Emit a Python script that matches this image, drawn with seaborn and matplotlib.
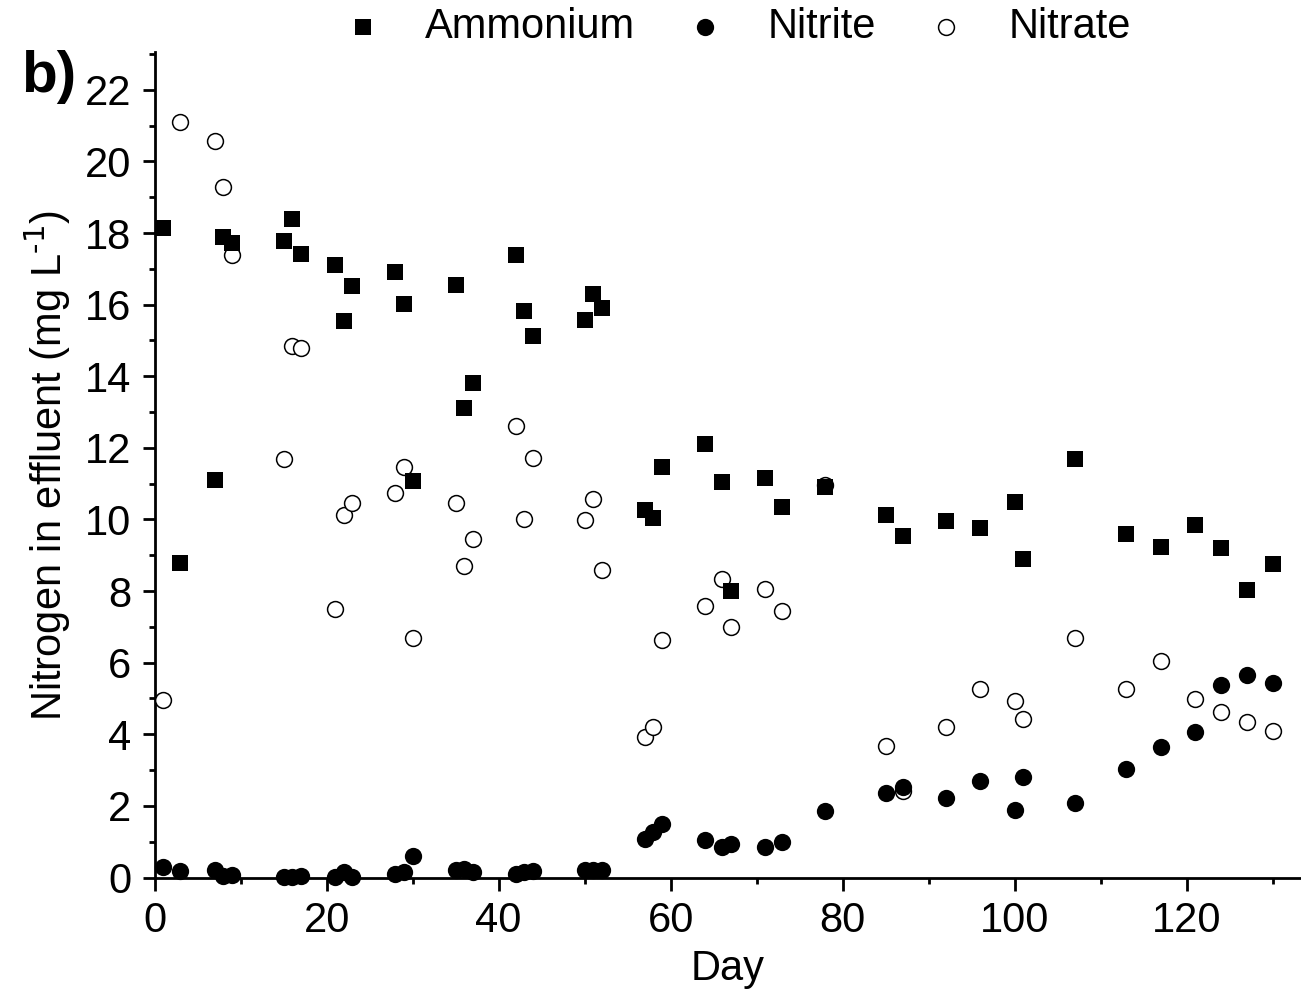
import pandas as pd
import matplotlib.pyplot as plt
import seaborn as sns
from matplotlib.ticker import MultipleLocator

# sampling days (same for all three species)
days = [1, 3, 7, 8, 9, 15, 16, 17, 21, 22, 23, 28, 29, 30, 35, 36, 37, 42, 43, 44,
        50, 51, 52, 57, 58, 59, 64, 66, 67, 71, 73, 78, 85, 87, 92, 96, 100, 101,
        107, 113, 117, 121, 124, 127, 130]

ammonium = [18.15, 8.79, 11.10, 17.90, 17.71, 17.79, 18.40, 17.42, 17.11, 15.54,
            16.53, 16.92, 16.02, 11.08, 16.55, 13.11, 13.82, 17.39, 15.82, 15.13,
            15.57, 16.30, 15.91, 10.27, 10.04, 11.47, 12.11, 11.05, 8.01, 11.17,
            10.36, 10.92, 10.13, 9.54, 9.97, 9.77, 10.49, 8.90, 11.69, 9.59,
            9.23, 9.85, 9.20, 8.03, 8.77]

nitrite = [0.28, 0.19, 0.22, 0.05, 0.08, 0.02, 0.02, 0.04, 0.02, 0.16,
           0.02, 0.09, 0.14, 0.60, 0.20, 0.23, 0.16, 0.11, 0.15, 0.17,
           0.22, 0.20, 0.22, 1.08, 1.28, 1.49, 1.05, 0.86, 0.93, 0.86,
           0.99, 1.86, 2.37, 2.54, 2.21, 2.70, 1.89, 2.82, 2.07, 3.02,
           3.65, 4.06, 5.37, 5.65, 5.42]

nitrate = [4.96, 21.11, 20.57, 19.30, 17.39, 11.68, 14.86, 14.78, 7.50, 10.13,
           10.47, 10.73, 11.46, 6.68, 10.46, 8.70, 9.46, 12.62, 10.02, 11.71,
           9.99, 10.57, 8.59, 3.92, 4.20, 6.63, 7.59, 8.34, 7.00, 8.06,
           7.45, 10.95, 3.68, 2.42, 4.21, 5.27, 4.93, 4.42, 6.70, 5.27,
           6.04, 4.99, 4.63, 4.35, 4.09]

df = pd.DataFrame({'Day': days, 'Ammonium': ammonium,
                   'Nitrite': nitrite, 'Nitrate': nitrate})

sns.set_style('ticks')
plt.rcParams['font.family'] = ['Liberation Sans', 'DejaVu Sans']
plt.rcParams['mathtext.default'] = 'regular'
plt.rcParams['text.color'] = 'black'
plt.rcParams['axes.labelcolor'] = 'black'
plt.rcParams['xtick.color'] = 'black'
plt.rcParams['ytick.color'] = 'black'

fig = plt.figure(figsize=(13.01, 9.97), dpi=100)
ax = fig.add_axes([154.7 / 1301, 119.5 / 997, (1301 - 154.7) / 1301, 825.2 / 997])

sns.scatterplot(x='Day', y='Nitrate', data=df, ax=ax, marker='o', s=130,
                facecolor='white', edgecolor='black', linewidth=1.1,
                label='Nitrate', clip_on=False, zorder=3)
sns.scatterplot(x='Day', y='Ammonium', data=df, ax=ax, marker='s', s=132,
                color='black', edgecolor='black', linewidth=0,
                label='Ammonium', clip_on=False, zorder=4)
sns.scatterplot(x='Day', y='Nitrite', data=df, ax=ax, marker='o', s=155,
                color='black', edgecolor='black', linewidth=0,
                label='Nitrite', clip_on=False, zorder=5)

ax.set_xlim(0, 133.3)
ax.set_ylim(0, 23.05)
ax.xaxis.set_major_locator(MultipleLocator(20))
ax.xaxis.set_minor_locator(MultipleLocator(10))
ax.yaxis.set_major_locator(MultipleLocator(2))
ax.yaxis.set_minor_locator(MultipleLocator(1))
ax.tick_params(which='major', direction='out', length=9, width=2, labelsize=30,
               pad=8, colors='black')
ax.tick_params(which='minor', direction='out', length=4.5, width=2, colors='black')
sns.despine(ax=ax)
for side in ['left', 'bottom']:
    ax.spines[side].set_linewidth(2)
    ax.spines[side].set_color('black')

ax.set_xlabel('Day', fontsize=30, labelpad=6)
ax.set_ylabel(r'Nitrogen in effluent (mg L$^{\text{-1}}$)', fontsize=30, labelpad=8)

handles, labels = ax.get_legend_handles_labels()
order = [labels.index(n) for n in ['Ammonium', 'Nitrite', 'Nitrate']]
ax.legend([handles[i] for i in order], [labels[i] for i in order],
          loc='center', bbox_to_anchor=(0.566, 0.973),
          bbox_transform=fig.transFigure, ncol=3, frameon=False,
          fontsize=30, handlelength=1.0, handletextpad=1.0,
          columnspacing=1.18, borderpad=0)

fig.text(21 / 1301, (997 - 92) / 997, 'b)', fontsize=42, fontweight='bold',
         va='baseline', ha='left')

plt.savefig('out.png', dpi=100)
